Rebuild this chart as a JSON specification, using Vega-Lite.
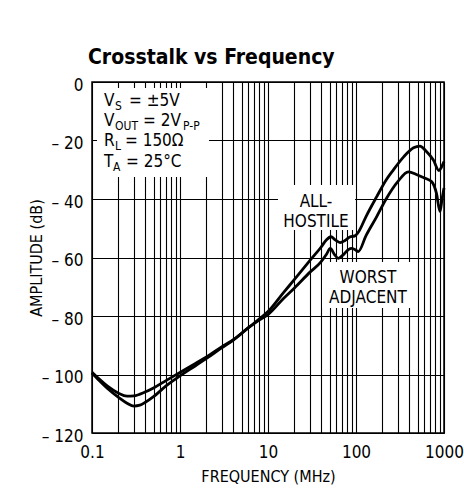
{
  "$schema": "https://vega.github.io/schema/vega-lite/v6.json",
  "width": 352,
  "height": 351,
  "autosize": {"type": "none"},
  "padding": {"left": 92, "top": 82, "right": 20, "bottom": 59},
  "background": "white",
  "config": {
    "view": {"stroke": "black", "strokeWidth": 1.5},
    "font": "DejaVu Sans Condensed, Roboto, sans-serif"
  },
  "title": {
    "text": "Crosstalk vs Frequency",
    "anchor": "start",
    "frame": "group",
    "font": "DejaVu Sans Condensed, Roboto, sans-serif",
    "fontSize": 21,
    "fontWeight": "bold",
    "color": "black",
    "baseline": "alphabetic",
    "offset": 19,
    "dy": 28,
    "dx": -4
  },
  "datasets": {
    "curves": [
      {"s": "ALL-HOSTILE", "f": 0.1, "db": -99.2},
      {"s": "ALL-HOSTILE", "f": 0.12, "db": -101.5},
      {"s": "ALL-HOSTILE", "f": 0.15, "db": -104},
      {"s": "ALL-HOSTILE", "f": 0.2, "db": -106.4},
      {"s": "ALL-HOSTILE", "f": 0.25, "db": -107.4},
      {"s": "ALL-HOSTILE", "f": 0.3, "db": -107.3},
      {"s": "ALL-HOSTILE", "f": 0.4, "db": -106},
      {"s": "ALL-HOSTILE", "f": 0.5, "db": -104.6},
      {"s": "ALL-HOSTILE", "f": 0.7, "db": -102},
      {"s": "ALL-HOSTILE", "f": 1, "db": -99.3},
      {"s": "ALL-HOSTILE", "f": 1.5, "db": -96.2},
      {"s": "ALL-HOSTILE", "f": 2, "db": -94},
      {"s": "ALL-HOSTILE", "f": 3, "db": -90.5},
      {"s": "ALL-HOSTILE", "f": 4, "db": -88.2},
      {"s": "ALL-HOSTILE", "f": 6, "db": -84},
      {"s": "ALL-HOSTILE", "f": 8, "db": -81},
      {"s": "ALL-HOSTILE", "f": 10, "db": -78.5},
      {"s": "ALL-HOSTILE", "f": 15, "db": -72},
      {"s": "ALL-HOSTILE", "f": 20, "db": -67.5},
      {"s": "ALL-HOSTILE", "f": 30, "db": -61},
      {"s": "ALL-HOSTILE", "f": 40, "db": -56.5},
      {"s": "ALL-HOSTILE", "f": 46, "db": -54},
      {"s": "ALL-HOSTILE", "f": 52, "db": -52.9},
      {"s": "ALL-HOSTILE", "f": 58, "db": -54},
      {"s": "ALL-HOSTILE", "f": 66, "db": -54.9},
      {"s": "ALL-HOSTILE", "f": 75, "db": -54.2},
      {"s": "ALL-HOSTILE", "f": 85, "db": -53},
      {"s": "ALL-HOSTILE", "f": 97, "db": -52.6},
      {"s": "ALL-HOSTILE", "f": 108, "db": -51},
      {"s": "ALL-HOSTILE", "f": 130, "db": -46},
      {"s": "ALL-HOSTILE", "f": 172, "db": -39.2},
      {"s": "ALL-HOSTILE", "f": 220, "db": -33.5},
      {"s": "ALL-HOSTILE", "f": 265, "db": -30.1},
      {"s": "ALL-HOSTILE", "f": 350, "db": -25.5},
      {"s": "ALL-HOSTILE", "f": 450, "db": -22.5},
      {"s": "ALL-HOSTILE", "f": 534, "db": -21.9},
      {"s": "ALL-HOSTILE", "f": 620, "db": -23.5},
      {"s": "ALL-HOSTILE", "f": 757, "db": -26.7},
      {"s": "ALL-HOSTILE", "f": 877, "db": -30.3},
      {"s": "ALL-HOSTILE", "f": 940, "db": -29},
      {"s": "ALL-HOSTILE", "f": 1000, "db": -27.2},
      {"s": "WORST ADJACENT", "f": 0.1, "db": -99.5},
      {"s": "WORST ADJACENT", "f": 0.12, "db": -102},
      {"s": "WORST ADJACENT", "f": 0.15, "db": -104.8},
      {"s": "WORST ADJACENT", "f": 0.2, "db": -107.8},
      {"s": "WORST ADJACENT", "f": 0.25, "db": -109.8},
      {"s": "WORST ADJACENT", "f": 0.3, "db": -110.8},
      {"s": "WORST ADJACENT", "f": 0.35, "db": -110.5},
      {"s": "WORST ADJACENT", "f": 0.4, "db": -109.6},
      {"s": "WORST ADJACENT", "f": 0.5, "db": -107.6},
      {"s": "WORST ADJACENT", "f": 0.7, "db": -103.8},
      {"s": "WORST ADJACENT", "f": 1, "db": -100.5},
      {"s": "WORST ADJACENT", "f": 1.5, "db": -97},
      {"s": "WORST ADJACENT", "f": 2, "db": -94.5},
      {"s": "WORST ADJACENT", "f": 3, "db": -90.8},
      {"s": "WORST ADJACENT", "f": 4, "db": -88.3},
      {"s": "WORST ADJACENT", "f": 6, "db": -84},
      {"s": "WORST ADJACENT", "f": 8, "db": -81.3},
      {"s": "WORST ADJACENT", "f": 10, "db": -79.5},
      {"s": "WORST ADJACENT", "f": 15, "db": -74},
      {"s": "WORST ADJACENT", "f": 20, "db": -70.4},
      {"s": "WORST ADJACENT", "f": 30, "db": -65},
      {"s": "WORST ADJACENT", "f": 40, "db": -61.5},
      {"s": "WORST ADJACENT", "f": 46, "db": -59},
      {"s": "WORST ADJACENT", "f": 51, "db": -56.9},
      {"s": "WORST ADJACENT", "f": 57, "db": -59},
      {"s": "WORST ADJACENT", "f": 63, "db": -60.3},
      {"s": "WORST ADJACENT", "f": 72, "db": -59},
      {"s": "WORST ADJACENT", "f": 82, "db": -57.3},
      {"s": "WORST ADJACENT", "f": 89, "db": -56.9},
      {"s": "WORST ADJACENT", "f": 100, "db": -57.5},
      {"s": "WORST ADJACENT", "f": 106, "db": -58},
      {"s": "WORST ADJACENT", "f": 130, "db": -52.5},
      {"s": "WORST ADJACENT", "f": 172, "db": -46},
      {"s": "WORST ADJACENT", "f": 220, "db": -40},
      {"s": "WORST ADJACENT", "f": 300, "db": -34},
      {"s": "WORST ADJACENT", "f": 393, "db": -30.7},
      {"s": "WORST ADJACENT", "f": 500, "db": -31.8},
      {"s": "WORST ADJACENT", "f": 620, "db": -33},
      {"s": "WORST ADJACENT", "f": 725, "db": -34.1},
      {"s": "WORST ADJACENT", "f": 820, "db": -38},
      {"s": "WORST ADJACENT", "f": 901, "db": -44.3},
      {"s": "WORST ADJACENT", "f": 950, "db": -40},
      {"s": "WORST ADJACENT", "f": 1000, "db": -36.2}
    ],
    "boxes": [
      {"f": 0.114, "f2": 2.136, "db": -2.05, "db2": -32.5},
      {"f": 13.0, "f2": 97.5, "db": -35.2, "db2": -50.6},
      {"f": 41.1, "f2": 468, "db": -61.5, "db2": -77.3}
    ],
    "mainText": [
      {"f": 0.1369, "db": -8.1, "t": "V"},
      {"f": 0.2633, "db": -8.1, "t": "= ±5V"},
      {"f": 0.1369, "db": -14.9, "t": "V"},
      {"f": 0.3797, "db": -14.9, "t": "= 2V"},
      {"f": 0.1369, "db": -22.05, "t": "R"},
      {"f": 0.2371, "db": -22.05, "t": "= 150Ω"},
      {"f": 0.1369, "db": -29.0, "t": "T"},
      {"f": 0.2434, "db": -29.0, "t": "= 25°C"}
    ],
    "subText": [
      {"f": 0.1825, "db": -8.1, "t": "S"},
      {"f": 0.1825, "db": -14.9, "t": "OUT"},
      {"f": 1.0817, "db": -14.9, "t": "P-P"},
      {"f": 0.1825, "db": -22.05, "t": "L"},
      {"f": 0.1738, "db": -29.0, "t": "A"}
    ],
    "labels": [
      {"f": 35.1, "db": -42.8, "t": "ALL-"},
      {"f": 35.1, "db": -49.7, "t": "HOSTILE"},
      {"f": 136.8, "db": -68.7, "t": "WORST"},
      {"f": 136.8, "db": -75.6, "t": "ADJACENT"}
    ]
  },
  "encoding": {
    "x": {
      "field": "f",
      "type": "quantitative",
      "scale": {"type": "log", "domain": [0.1, 1000], "nice": false},
      "axis": {
        "title": "FREQUENCY (MHz)",
        "values": [0.1, 0.2, 0.3, 0.4, 0.5, 0.6, 0.7, 0.8, 0.9, 1, 2, 3, 4, 5, 6, 7, 8, 9, 10, 20, 30, 40, 50, 60, 70, 80, 90, 100, 200, 300, 400, 500, 600, 700, 800, 900, 1000],
        "labelExpr": "datum.value == 0.1 ? '0.1' : datum.value == 1 ? '1' : datum.value == 10 ? '10' : datum.value == 100 ? '100' : datum.value == 1000 ? '1000' : ''",
        "labelOverlap": false,
        "labelFlush": false,
        "grid": true,
        "gridColor": "black",
        "gridWidth": 1.1,
        "gridOpacity": 1,
        "ticks": false,
        "tickSize": 0,
        "domain": false,
        "labelPadding": 11,
        "labelFont": "DejaVu Sans Condensed, Roboto, sans-serif",
        "labelFontSize": 17,
        "labelColor": "black",
        "titleFont": "DejaVu Sans Condensed, Roboto, sans-serif",
        "titleFontSize": 16,
        "titleFontWeight": "normal",
        "titleColor": "black",
        "titlePadding": 8
      }
    },
    "y": {
      "field": "db",
      "type": "quantitative",
      "scale": {"domain": [-120, 0], "nice": false, "zero": false},
      "axis": {
        "title": "AMPLITUDE (dB)",
        "values": [-120, -100, -80, -60, -40, -20, 0],
        "labelExpr": "datum.value == 0 ? '0' : '– ' + toString(-datum.value)",
        "grid": true,
        "gridColor": "black",
        "gridWidth": 1.1,
        "gridOpacity": 1,
        "ticks": false,
        "tickSize": 0,
        "domain": false,
        "labelPadding": 9,
        "labelOffset": 3,
        "labelFont": "DejaVu Sans Condensed, Roboto, sans-serif",
        "labelFontSize": 17,
        "labelColor": "black",
        "titleFont": "DejaVu Sans Condensed, Roboto, sans-serif",
        "titleFontSize": 16,
        "titleFontWeight": "normal",
        "titleColor": "black",
        "titlePadding": -3
      }
    }
  },
  "layer": [
    {
      "data": {"name": "boxes"},
      "mark": {"type": "rect", "fill": "white", "strokeWidth": 0},
      "encoding": {"x2": {"field": "f2"}, "y2": {"field": "db2"}}
    },
    {
      "data": {"name": "curves"},
      "mark": {"type": "line", "color": "black", "strokeWidth": 2.8, "interpolate": "monotone"},
      "encoding": {"detail": {"field": "s"}}
    },
    {
      "data": {"name": "mainText"},
      "mark": {"type": "text", "align": "left", "baseline": "alphabetic", "fontSize": 17, "font": "DejaVu Sans Condensed, Roboto, sans-serif", "color": "black"},
      "encoding": {"text": {"field": "t"}}
    },
    {
      "data": {"name": "subText"},
      "mark": {"type": "text", "align": "left", "baseline": "alphabetic", "fontSize": 12, "dy": 4, "font": "DejaVu Sans Condensed, Roboto, sans-serif", "color": "black"},
      "encoding": {"text": {"field": "t"}}
    },
    {
      "data": {"name": "labels"},
      "mark": {"type": "text", "align": "center", "baseline": "alphabetic", "fontSize": 17, "font": "DejaVu Sans Condensed, Roboto, sans-serif", "color": "black"},
      "encoding": {"text": {"field": "t"}}
    }
  ]
}
